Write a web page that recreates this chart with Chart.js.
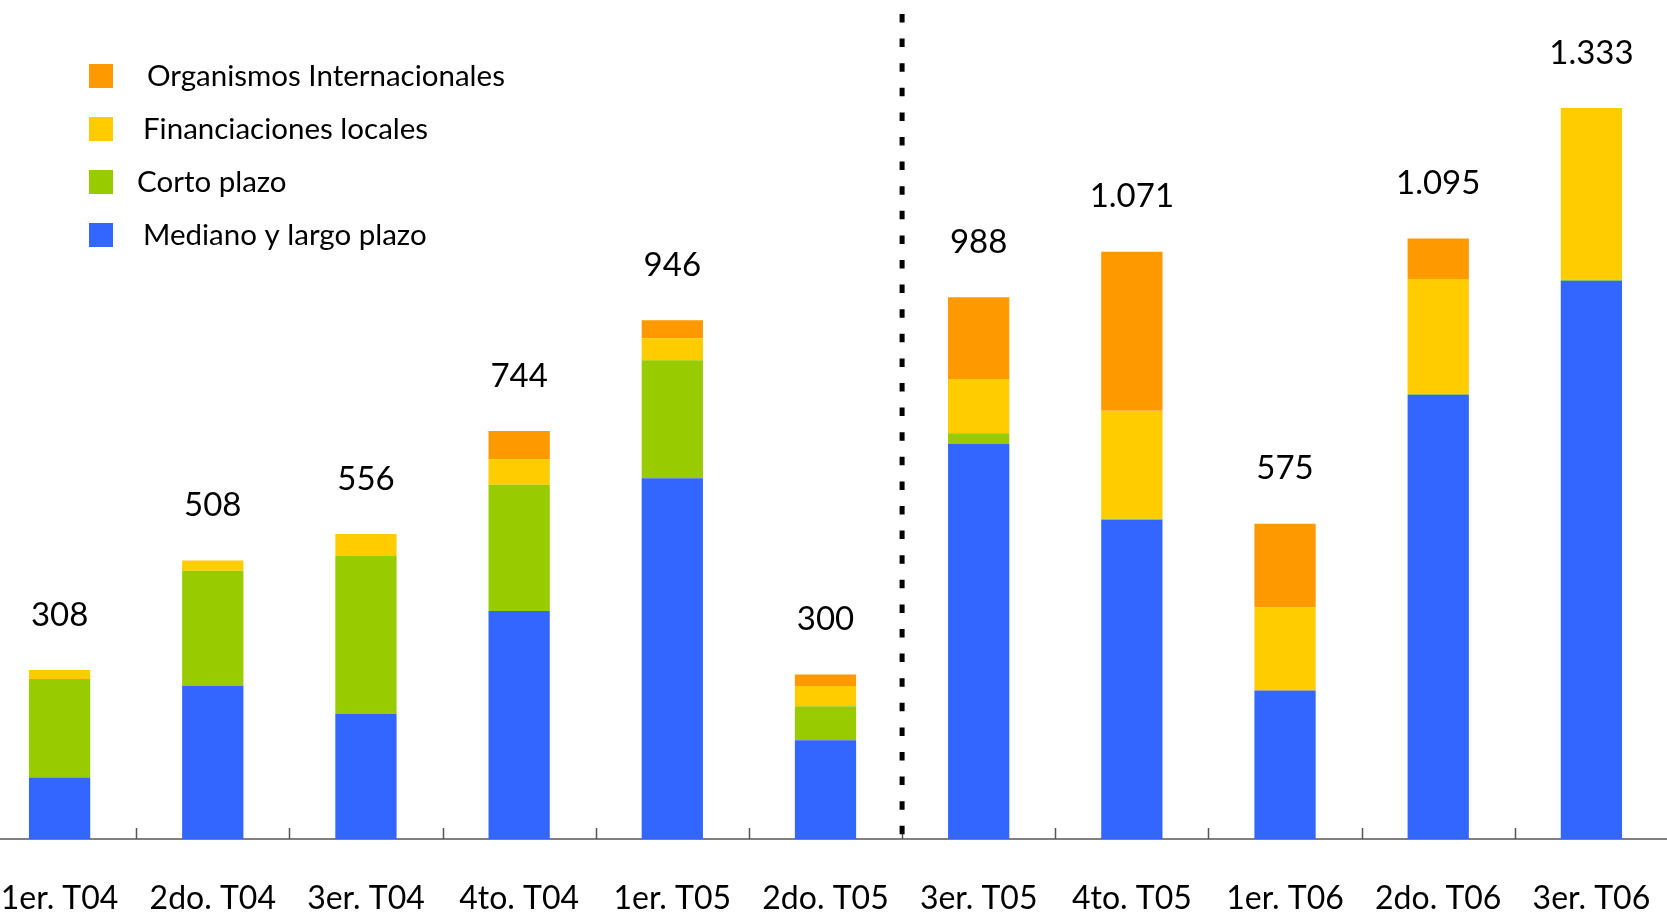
<!DOCTYPE html>
<html>
<head>
<meta charset="utf-8">
<script src="https://cdn.jsdelivr.net/npm/chart.js@4.4.1/dist/chart.umd.min.js"></script>
<style>
  html, body { margin: 0; padding: 0; background: #fff; overflow: hidden; }
  #wrap { position: absolute; left: -17px; top: 0; width: 1685px; height: 914px; }
</style>
</head>
<body>
<div id="wrap"><canvas id="chart-deuda"></canvas></div>
<script>
// datos
const categorias = ['1er. T04', '2do. T04', '3er. T04', '4to. T04', '1er. T05', '2do. T05',
                    '3er. T05', '4to. T05', '1er. T06', '2do. T06', '3er. T06'];
const medianoLargo   = [112, 279, 228, 416, 658, 180, 721, 582, 271, 810, 1018];
const cortoPlazo     = [180, 210, 288, 230, 215,  62,  19,   2,   0,   2,    2];
const financLocales  = [ 16,  19,  40,  46,  40,  37,  99, 197, 151, 209,  313];
const organismos     = [  0,   0,   0,  52,  33,  21, 149, 290, 153,  74,    0];
const totales        = ['308', '508', '556', '744', '946', '300', '988', '1.071', '575', '1.095', '1.333'];

const SHIFT = 17; // el canvas arranca 17px a la izquierda de la pagina
const FUENTE = 'Lato, "Open Sans", sans-serif';

// totales sobre cada barra + linea punteada + marcas del eje + leyenda
const extras = {
  id: 'extras',
  afterDatasetsDraw(chart) {
    const ctx = chart.ctx;
    const x = chart.scales.x, y = chart.scales.y;
    const area = chart.chartArea;
    ctx.save();

    // marcas entre categorias
    ctx.strokeStyle = '#555';
    ctx.lineWidth = 1.5;
    for (let i = 0; i < categorias.length - 1; i++) {
      const px = Math.round((x.getPixelForValue(i) + x.getPixelForValue(i + 1)) / 2) + 0.5;
      ctx.beginPath();
      ctx.moveTo(px, area.bottom - 11);
      ctx.lineTo(px, area.bottom);
      ctx.stroke();
    }

    // linea punteada entre 2do. T05 y 3er. T05
    const sep = (x.getPixelForValue(5) + x.getPixelForValue(6)) / 2;
    ctx.strokeStyle = '#000';
    ctx.lineWidth = 5;
    ctx.setLineDash([8.5, 16.1]);
    ctx.beginPath();
    ctx.moveTo(sep, 14);
    ctx.lineTo(sep, area.bottom - 3);
    ctx.stroke();
    ctx.setLineDash([]);

    // totales
    ctx.fillStyle = '#000';
    ctx.font = '33px ' + FUENTE;
    ctx.textAlign = 'center';
    ctx.textBaseline = 'middle';
    categorias.forEach((c, i) => {
      const suma = medianoLargo[i] + cortoPlazo[i] + financLocales[i] + organismos[i];
      ctx.fillText(totales[i], x.getPixelForValue(i), y.getPixelForValue(suma) - 55);
    });

    // leyenda
    const series = chart.data.datasets.slice().reverse();
    const textoX = [147, 143, 137, 143];
    ctx.font = '29.5px ' + FUENTE;
    ctx.textAlign = 'left';
    series.forEach((ds, k) => {
      const cy = 76 + k * 53;
      ctx.fillStyle = ds.backgroundColor;
      ctx.fillRect(89 + SHIFT, cy - 12, 24, 24);
      ctx.fillStyle = '#000';
      ctx.fillText(ds.label, textoX[k] + SHIFT, cy);
    });

    ctx.restore();
  }
};

const ctx = document.getElementById('chart-deuda');
new Chart(ctx.getContext('2d'), {
  type: 'bar',
  data: {
    labels: categorias,
    datasets: [
      { label: 'Mediano y largo plazo', data: medianoLargo, backgroundColor: '#3366FF' },
      { label: 'Corto plazo', data: cortoPlazo, backgroundColor: '#99CC00' },
      { label: 'Financiaciones locales', data: financLocales, backgroundColor: '#FFCC00' },
      { label: 'Organismos Internacionales', data: organismos, backgroundColor: '#FF9900' }
    ]
  },
  options: {
    responsive: true,
    maintainAspectRatio: false,
    animation: false,
    layout: { padding: 0 },
    datasets: { bar: { barPercentage: 0.4, categoryPercentage: 1, borderWidth: 0 } },
    plugins: { legend: { display: false }, tooltip: { enabled: false } },
    scales: {
      x: {
        stacked: true,
        grid: { display: false },
        border: { display: true, color: '#808080', width: 2 },
        ticks: { color: '#000', font: { family: FUENTE, size: 32 }, padding: 32, maxRotation: 0, autoSkip: false },
        afterFit: function(scale) {
          scale.height = 75;
          scale.paddingLeft = 0;
          scale.paddingRight = 0;
        }
      },
      y: { stacked: true, display: false, min: 0, max: 1530 }
    }
  },
  plugins: [extras]
});
</script>
</body>
</html>
